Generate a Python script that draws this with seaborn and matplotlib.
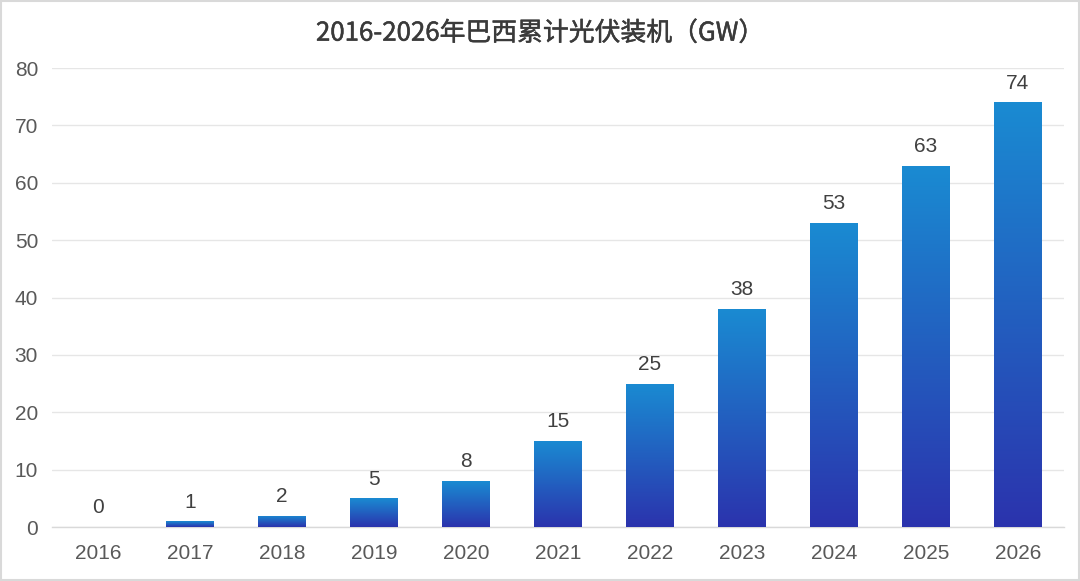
import numpy as np
import pandas as pd
import matplotlib
matplotlib.use("Agg")
import matplotlib.pyplot as plt
import matplotlib.patheffects as pe
import seaborn as sns
from matplotlib.colors import LinearSegmentedColormap
from matplotlib.patches import Rectangle

years = ["2016", "2017", "2018", "2019", "2020", "2021", "2022", "2023", "2024", "2025", "2026"]
capacity = [0, 1, 2, 5, 8, 15, 25, 38, 53, 63, 74]
title = "2016-2026年巴西累计光伏装机（GW）"

sns.set_theme(style="white")
plt.rcParams['font.family'] = ['Noto Sans CJK SC', 'DejaVu Sans']

df = pd.DataFrame({"year": years, "gw": capacity})

fig = plt.figure(figsize=(10.8, 5.81), dpi=100)
fig.patch.set_facecolor("white")
ax = fig.add_axes([0.0481, 0.0929, 0.937, 0.790])

sns.barplot(data=df, x="year", y="gw", color="#2a5cc0", width=0.52, ax=ax, saturation=1)

ax.set_ylim(0, 80)
ax.set_xlim(-0.5, len(years) - 0.5)
ax.set_yticks(np.arange(0, 81, 10))
ax.yaxis.grid(True, color="#e6e6e6", linewidth=1)
ax.set_axisbelow(True)
for s in ["top", "right", "left"]:
    ax.spines[s].set_visible(False)
ax.spines["bottom"].set_color("#d9d9d9")
ax.spines["bottom"].set_linewidth(1)
ax.set_xlabel("")
ax.set_ylabel("")
ax.tick_params(axis="both", length=0, labelsize=15, colors="#595959")
ax.tick_params(axis="x", pad=12)
ax.tick_params(axis="y", pad=10)
for lab in ax.get_xticklabels() + ax.get_yticklabels():
    lab.set_family(["Liberation Sans", "DejaVu Sans"])

cmap = LinearSegmentedColormap.from_list("g", ["#2b33ad", "#1a8bd2"])
grad = np.linspace(0, 1, 256).reshape(-1, 1)
for p in ax.patches:
    h = p.get_height()
    x0 = p.get_x()
    w = p.get_width()
    if h <= 0:
        continue
    p.set_alpha(0)
    im = ax.imshow(grad, extent=[x0, x0 + w, 0, h], origin="lower", cmap=cmap,
                   aspect="auto", zorder=3)
    clip = Rectangle((x0, 0), w, h, transform=ax.transData)
    im.set_clip_path(clip)

ax.set_xlim(-0.5, len(years) - 0.5)
ax.set_ylim(0, 80)

for i, v in enumerate(capacity):
    ax.annotate(str(v), (i, v), xytext=(0, 7), textcoords="offset points",
                ha="center", va="bottom", fontsize=15, color="#404040",
                family=["Liberation Sans", "DejaVu Sans"])

fig.text(0.5, 0.943, title, ha="center", va="center", fontsize=18.6,
         color="#3a3a3a",
         path_effects=[pe.withStroke(linewidth=0.35, foreground="#3a3a3a")])

border = Rectangle((0.001, 0.001), 0.998, 0.998, transform=fig.transFigure,
                   fill=False, edgecolor="#d9d9d9", linewidth=1.5)
fig.add_artist(border)

fig.savefig("out.png", dpi=100, facecolor="white")
